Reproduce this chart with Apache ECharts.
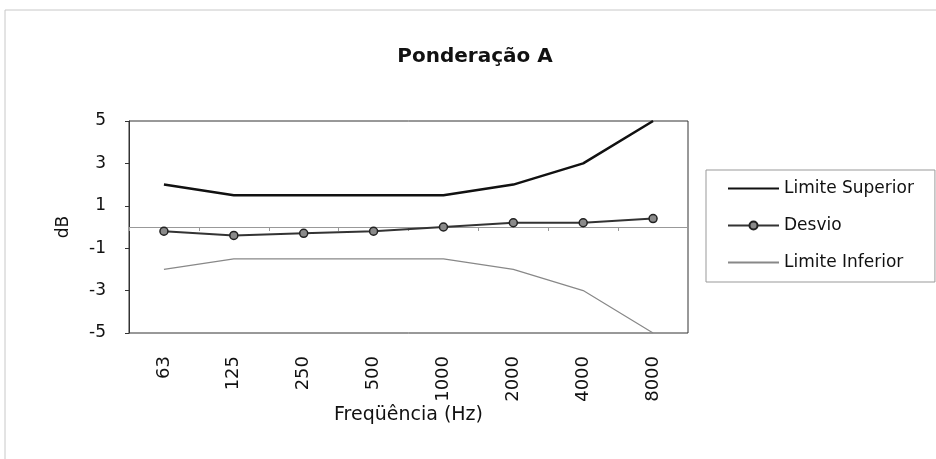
<!DOCTYPE html>
<html>
<head>
<meta charset="utf-8">
<script src="https://cdn.jsdelivr.net/npm/echarts@6/dist/echarts.min.js"></script>
<style>
  html, body { margin: 0; padding: 0; background: #fff; }
  #chart { width: 936px; height: 459px; }
</style>
</head>
<body>
<div id="chart"></div>
<script>
// frequências (Hz)
const frequencias = ['63', '125', '250', '500', '1000', '2000', '4000', '8000'];
const limiteSuperior = [2, 1.5, 1.5, 1.5, 1.5, 2, 3, 5];
const desvio = [-0.2, -0.4, -0.3, -0.2, 0, 0.2, 0.2, 0.4];
const limiteInferior = [-2, -1.5, -1.5, -1.5, -1.5, -2, -3, -5];

const fonte = 'DejaVu Sans, Arial, sans-serif';
const iconeLinha = 'path://M0,0 L52,0 L52,2 L0,2 Z';

const chart = echarts.init(document.getElementById('chart'));

const option = {
  animation: false,
  backgroundColor: '#fff',
  textStyle: { fontFamily: fonte },
  // moldura do gráfico (scan)
  graphic: [
    {
      type: 'rect',
      shape: { x: 5, y: 10, width: 960, height: 480 },
      style: { fill: 'none', stroke: '#c8c8c8', lineWidth: 1 },
      silent: true,
    },
  ],
  title: {
    text: 'Ponderação A',
    left: 470,
    top: 42,
    textAlign: 'center',
    textStyle: { fontSize: 20, fontWeight: 'bold', color: '#111', fontFamily: fonte },
  },
  grid: {
    left: 129,
    right: 248,
    top: 121,
    bottom: 126,
    show: true,
    borderColor: '#333',
    borderWidth: 1,
  },
  legend: {
    orient: 'vertical',
    left: 706,
    top: 170,
    padding: [10, 21, 11, 21],
    itemGap: 20,
    itemWidth: 51,
    itemHeight: 10,
    borderColor: '#999',
    borderWidth: 1,
    textStyle: { fontSize: 17, color: '#111', fontFamily: fonte },
    data: [
      { name: 'Limite Superior', icon: iconeLinha },
      { name: 'Desvio' },
      { name: 'Limite Inferior', icon: iconeLinha },
    ],
  },
  xAxis: [
    {
      type: 'category',
      data: frequencias,
      position: 'bottom',
      axisLine: { show: false, onZero: false },
      axisTick: { show: false },
      axisLabel: { rotate: 90, fontSize: 18, color: '#111', margin: 23 },
      name: 'Freqüência (Hz)',
      nameLocation: 'middle',
      nameGap: 73,
      nameTextStyle: { fontSize: 19, color: '#111' },
    },
    {
      type: 'category',
      data: frequencias,
      position: 'bottom',
      axisLine: { show: true, onZero: true, lineStyle: { color: '#999', width: 1 } },
      axisTick: { show: true, length: 4, lineStyle: { color: '#999' } },
      axisLabel: { show: false },
    },
  ],
  yAxis: {
    type: 'value',
    min: -5,
    max: 5,
    interval: 2,
    splitLine: { show: false },
    axisLine: { show: true, lineStyle: { color: '#333' } },
    axisTick: { show: true, length: 4, lineStyle: { color: '#333' } },
    axisLabel: { fontSize: 17, color: '#111', margin: 23 },
    name: 'dB',
    nameLocation: 'middle',
    nameRotate: 90,
    nameGap: 57,
    nameTextStyle: { fontSize: 17, color: '#111' },
  },
  series: [
    {
      name: 'Limite Superior',
      type: 'line',
      data: limiteSuperior,
      showSymbol: false,
      symbol: 'none',
      lineStyle: { color: '#111', width: 2.5 },
      itemStyle: { color: '#111' },
    },
    {
      name: 'Desvio',
      type: 'line',
      data: desvio,
      symbol: 'circle',
      symbolSize: 8,
      lineStyle: { color: '#333', width: 2 },
      itemStyle: { color: '#8a8a8a', borderColor: '#222', borderWidth: 1.5 },
    },
    {
      name: 'Limite Inferior',
      type: 'line',
      data: limiteInferior,
      showSymbol: false,
      symbol: 'none',
      lineStyle: { color: '#888', width: 1.2 },
      itemStyle: { color: '#888' },
    },
  ],
};

chart.setOption(option);
</script>
</body>
</html>
